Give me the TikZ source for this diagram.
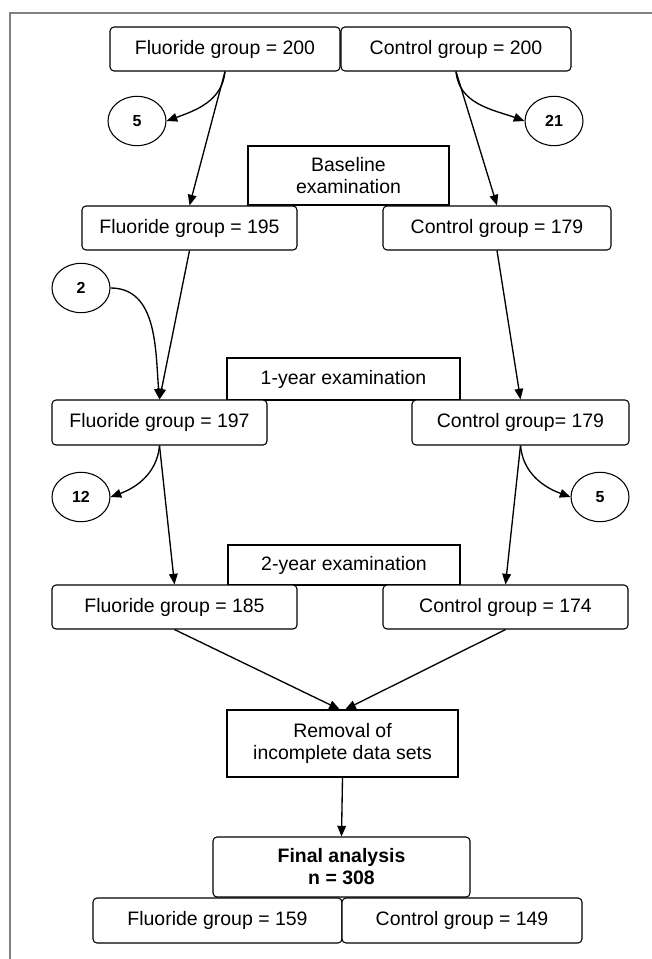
\documentclass[tikz,border=0pt]{standalone}
\usepackage{fontspec}
\setmainfont{Liberation Sans}
\usetikzlibrary{arrows.meta, shapes.geometric}

\begin{document}
\begin{tikzpicture}[x=0.75pt, y=0.75pt,
    grp/.style={draw, rounded corners=3pt, fill=white, line width=0.8pt, inner sep=0pt, align=center, font=\fontsize{14.6}{16.5}\selectfont},
    exambox/.style={draw, fill=white, line width=0.8pt, inner sep=0pt, align=center, font=\fontsize{14.6}{16.5}\selectfont},
    lost/.style={draw, ellipse, minimum width=43.5pt, minimum height=37pt, inner sep=0pt, line width=0.8pt, font=\fontsize{12}{14}\selectfont\bfseries},
    flow/.style={-{Triangle[length=8pt, width=6.5pt]}, line width=1pt}]
    \useasboundingbox (0,0) rectangle (652,-959);

    % panel frame
    \draw[gray, line width=1.1pt] (10,-959) -- (10,-13) -- (652,-13);

    % examination steps
    \node[exambox, minimum width=150.75pt, minimum height=44.25pt] (base) at (348.5,-175.5) {Baseline\\examination};
    \node[exambox, minimum width=174.75pt, minimum height=31.5pt] (year1) at (343.5,-379) {1-year examination};
    \node[exambox, minimum width=174pt, minimum height=30pt] (year2) at (344,-565) {2-year examination};
    \node[exambox, minimum width=173.25pt, minimum height=50.25pt] (remove) at (342.5,-743.5) {Removal of\\incomplete data sets};

    % groups at start
    \node[grp, minimum width=172.5pt, minimum height=33pt] (f200) at (225,-49) {Fluoride group = 200};
    \node[grp, minimum width=172.5pt, minimum height=33pt] (c200) at (456,-49) {Control group = 200};

    % baseline
    \node[grp, minimum width=161.25pt, minimum height=33pt] (f195) at (189.5,-228) {Fluoride group = 195};
    \node[grp, minimum width=171pt, minimum height=33pt] (c179a) at (497,-228) {Control group = 179};

    % 1 year
    \node[grp, minimum width=161.25pt, minimum height=33.75pt] (f197) at (159.5,-422.5) {Fluoride group = 197};
    \node[grp, minimum width=162.75pt, minimum height=33.75pt] (c179b) at (520.5,-422.5) {Control group= 179};

    % 2 years
    \node[grp, minimum width=183.75pt, minimum height=33pt] (f185) at (174.5,-607) {Fluoride group = 185};
    \node[grp, minimum width=183.75pt, minimum height=33pt] (c174) at (505.5,-607) {Control group = 174};

    % final analysis
    \node[grp, minimum width=192.75pt, minimum height=45pt, font=\fontsize{14.6}{16.5}\selectfont\bfseries] (final) at (341.5,-867) {Final analysis\\n = 308};
    \node[grp, minimum width=186.75pt, minimum height=33.75pt] (f159) at (217.5,-920.5) {Fluoride group = 159};
    \node[grp, minimum width=180pt, minimum height=33.75pt] (c149) at (462,-920.5) {Control group = 149};

    % drop-outs and additions
    \node[lost] (d5a) at (137,-121) {5};
    \node[lost] (d21) at (554,-121) {21};
    \node[lost] (d2) at (81,-288) {2};
    \node[lost] (d12) at (81,-497) {12};
    \node[lost] (d5b) at (600,-497) {5};

    % arrows
    \draw[flow] (f200.south) -- (f195.north);
    \draw[flow] (f200.south) to[out=-95, in=20] (d5a.east);
    \draw[flow] (c200.south) -- (c179a.north);
    \draw[flow] (c200.south) to[out=-85, in=160] (d21.west);

    \draw[flow] (f195.south) -- (f197.north);
    \draw[flow] (d2.east) to[out=0, in=95] (f197.north);
    \draw[flow] (c179a.south) -- (c179b.north);

    \draw[flow] (f197.south) -- (f185.north);
    \draw[flow] (f197.south) to[out=-95, in=20] (d12.east);
    \draw[flow] (c179b.south) -- (c174.north);
    \draw[flow] (c179b.south) to[out=-85, in=160] (d5b.west);

    \draw[flow] (f185.south) -- ([xshift=-2pt]remove.north);
    \draw[flow] (c174.south) -- ([xshift=2pt]remove.north);
    \draw[flow] (remove.south) -- (final.north);
\end{tikzpicture}
\end{document}
